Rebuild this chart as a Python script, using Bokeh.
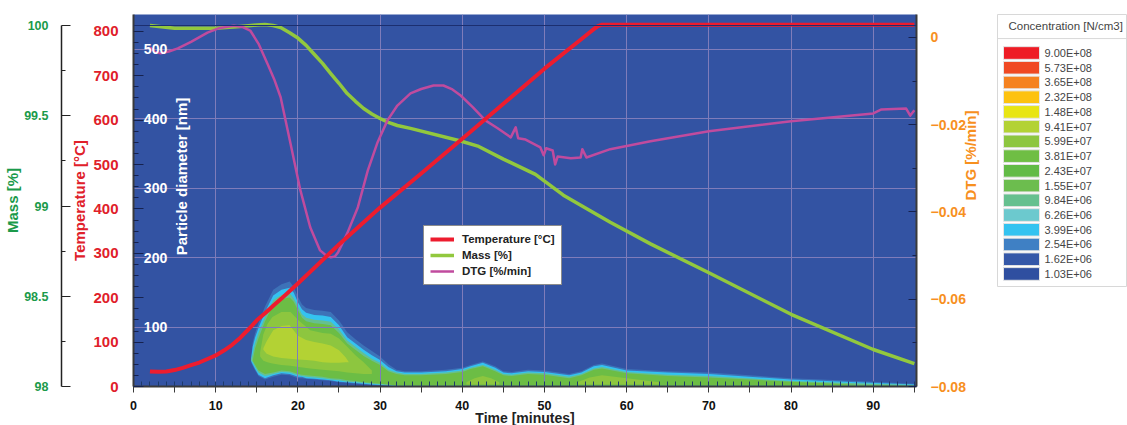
import math
from bokeh.plotting import figure
from bokeh.layouts import row
from bokeh.models import (Range1d, LinearAxis, FixedTicker, Grid, Legend, LegendItem, Span)
from bokeh.core.properties import value
from bokeh.embed import file_html
from bokeh.resources import INLINE

# ---- curves
temp_t = [2, 3, 4, 5, 6, 7, 8, 9, 10, 11, 12, 13, 14, 15, 16, 17, 18, 20, 25, 30, 35, 40, 45, 50, 55, 56, 56.5, 57, 95]
temp_v = [34, 33, 34, 37, 42, 48, 54, 62, 70, 81, 94, 110, 129, 149, 165, 182, 198, 232, 320, 403, 480, 558, 637, 716, 790, 805, 812, 815, 815]

mass_t = [2, 5, 10, 13, 15, 16, 17, 17.9, 19, 19.9, 21, 21.9, 23, 24, 25, 26, 27, 28, 29, 30, 31, 32.1, 33.7, 39.8, 42, 45,
          48.9, 52.3, 58, 62.9, 70, 80, 90, 95]
mass_v = [100.0, 99.985, 99.985, 99.995, 100.003, 100.005, 100.0, 99.989, 99.96, 99.934, 99.89, 99.845, 99.79, 99.734,
          99.68, 99.623, 99.58, 99.54, 99.51, 99.485, 99.463, 99.446, 99.43, 99.36, 99.33, 99.26,
          99.175, 99.06, 98.91, 98.79, 98.63, 98.40, 98.205, 98.127]

dtg_t = [2, 2.6, 3.3, 4.3, 5.4, 7, 9, 10.5, 12.2, 13.3, 14.2, 15.2, 16.3, 17.1, 17.9, 19.1, 20.3, 21.5, 22.7, 23.4, 24,
         24.5, 24.9, 26, 27.3, 28.5, 29.7, 30.9, 32.1, 33.7, 35, 36.5, 37.7, 38.8, 39.8, 41.3, 42.8, 44.3, 45.9,
         46.5, 46.8, 47.7, 49.5, 49.9, 50.2, 51, 51.3, 51.6, 53.2, 54.4, 54.6, 55.1, 58, 62.9, 70, 80, 90, 91, 94,
         94.5, 95]
dtg_v = [-0.0023, -0.0033, -0.0036, -0.0032, -0.0025, -0.0010, 0.0011, 0.0022, 0.0027, 0.0024, 0.0016, -0.0014,
         -0.0060, -0.0095, -0.0137, -0.0243, -0.0350, -0.0435, -0.0488, -0.0499, -0.0504, -0.0502, -0.0492, -0.0449,
         -0.0389, -0.0305, -0.0240, -0.0190, -0.0156, -0.0128, -0.0118, -0.0110, -0.0110, -0.0119, -0.0133,
         -0.0160, -0.0190, -0.0208, -0.0229, -0.0206, -0.0231, -0.0234, -0.0252, -0.0270, -0.0254, -0.0259, -0.0291,
         -0.0273, -0.0277, -0.0275, -0.0256, -0.0275, -0.0256, -0.0238, -0.0215, -0.0192, -0.0174, -0.0165, -0.0163,
         -0.0179, -0.0167]

# ---- concentration contours (time, particle diameter)
t_grid = [14.3, 14.5, 14.8, 15.2, 16, 17, 18, 19, 19.5, 20, 20.5, 21, 22, 23, 24, 25, 26, 27, 28, 29, 30, 31, 32, 33,
          35, 38, 40, 41, 42.5, 44, 45, 46, 48, 50, 53, 54.5, 56, 57, 60, 65, 70, 80, 88, 95]
halo_top = [56, 78, 92, 106, 130, 154, 162, 166, 158, 144, 133, 128, 125, 124, 122, 110, 93, 83, 74, 66, 58, 47, 39, 37,
            37, 39, 42, 46, 51, 44, 37, 36, 39, 38, 33, 37, 46, 48, 40, 37, 35, 27, 23, 19]
halo_bot = [50, 45, 38, 30, 25, 29, 32, 31, 29, 27, 27, 26, 25, 24, 23, 21, 20, 19, 18, 17, 16.5, 16, 15, 15,
            15, 15, 15, 15, 15, 15, 15, 15, 15, 15, 15, 15, 15, 15, 15, 15, 15, 15, 15, 15]
cyan_top = [54, 72, 86, 99, 122, 146, 154, 157, 150, 136, 126, 121, 118, 117, 115, 103, 86, 77, 68, 60, 53, 43, 37, 35,
            35, 37, 40, 44, 49, 42, 35, 34, 37, 36, 31, 35, 44, 46, 38, 35, 33, 25, 21, 18]
cyan_bot = [52, 47, 40, 32, 27, 31, 34, 33, 31, 29, 29, 27, 26, 25, 24, 22, 21, 20, 19, 18, 17, 16.5, 15.5, 15.5,
            15.5, 15.5, 15.5, 15.5, 15.5, 15.5, 15.5, 15.5, 15.5, 15.5, 15.5, 15.5, 15.5, 15.5, 15.5, 15.5, 15.5, 15.5, 15.5, 15.5]
teal_top = [53, 62, 78, 92, 115, 139, 147, 149, 142, 130, 119, 114, 111, 110, 108, 97, 81, 72, 63, 55, 49, 39, 35, 33,
            33, 35, 38, 42, 46, 39, 33, 32, 35, 34, 29, 33, 41, 43, 36, 32, 30, 23, 19.5, 17]
teal_bot = [53, 50, 43, 35, 30, 33, 36, 35, 33, 31, 30, 29, 28, 27, 25, 24, 22, 21, 20, 19, 18, 17, 16, 16,
            16, 16, 16, 16, 16, 16, 16, 16, 16, 16, 16, 16, 16, 16, 16, 16, 16, 16, 16, 16]
green_top = [54, 52, 70, 84, 109, 133, 141, 143, 137, 125, 114, 109, 106, 105, 103, 92, 77, 68, 59, 52, 46, 37, 33, 31,
             31, 33, 36, 40, 44, 37, 31, 30, 33, 32, 27, 31, 39, 41, 34, 30, 28, 22, 17.5, 16.5]
green_bot = [54, 52, 46, 38, 33, 35, 38, 37, 35, 33, 32, 31, 30, 29, 27, 26, 24, 23, 21, 20, 19, 18, 16.5, 16.5,
             16.5, 16.5, 16.5, 16.5, 16.5, 16.5, 16.5, 16.5, 16.5, 16.5, 16.5, 16.5, 16.5, 16.5, 16.5, 16.5, 16.5, 16.5, 16.5, 16.5]
mid_t = [15.4, 15.8, 16.3, 16.9, 18, 19.1, 20.1, 21.5, 23, 24, 25, 26, 27, 28, 29]
mid_top = [64, 90, 105, 115, 122, 122, 110, 96, 92, 91, 84, 72, 60, 50, 38]
mid_bot = [58, 52, 50, 48, 46, 45, 43, 41, 39, 38, 37, 35, 34, 33, 33]
hump1_t = [40.5, 41.5, 42.5, 43.5, 44.5]
hump1_top = [21, 27, 30, 27, 21]
hump1_bot = [18, 18, 18, 18, 18]
hump2_t = [54, 55.5, 57, 60, 64]
hump2_top = [21, 28, 31, 27, 21]
hump2_bot = [18, 18, 18, 18, 18]
core_t = [15.8, 16.2, 17, 18, 19, 20, 21, 22, 23, 24, 25, 25.8, 26.2]
core_top = [70, 80, 96, 102, 103, 88, 82, 79, 77, 74, 67, 57, 50]
core_bot = [68, 62, 58, 56, 55, 54, 53, 52, 50, 49, 49, 50, 50]

# ---- axes
time_ticks = [0, 10, 20, 30, 40, 50, 60, 70, 80, 90]
time_majors = [0, 5, 10, 15, 20, 25, 30, 35, 40, 45, 50, 55, 60, 65, 70, 75, 80, 85, 90, 95]
time_minors = list(range(0, 96))
particle_ticks = [100, 200, 300, 400, 500]
temp_ticks = [0, 100, 200, 300, 400, 500, 600, 700, 800]
temp_minors = [25, 50, 75, 125, 150, 175, 225, 250, 275, 325, 350, 375, 425, 450, 475, 525, 550, 575, 625, 650, 675, 725, 750, 775]
mass_ticks = [98, 98.5, 99, 99.5, 100]
mass_minors = [98.25, 98.75, 99.25, 99.75]
dtg_ticks = [-0.08, -0.06, -0.04, -0.02, 0]
dtg_minors = [-0.07, -0.05, -0.03, -0.01]

# ---- colour key
conc_labels = ["9.00E+08", "5.73E+08", "3.65E+08", "2.32E+08", "1.48E+08", "9.41E+07", "5.99E+07", "3.81E+07",
               "2.43E+07", "1.55E+07", "9.84E+06", "6.26E+06", "3.99E+06", "2.54E+06", "1.62E+06", "1.03E+06"]
conc_colors = ["#ee1c25", "#f04923", "#f58220", "#fdc20f", "#e8e514", "#b3d234", "#8dc63f", "#6fbe44",
               "#62bb46", "#6cbd4e", "#66c08f", "#6cc9ce", "#34c3f0", "#3f80c4", "#3558a8", "#2f4fa0"]

FONT = "Liberation Sans"
RED, GREEN_T, ORANGE = "#e0202a", "#1b9a4a", "#f7901e"
AX = "#3a3a3a"


def spacer(range_name, size):
    # an empty axis, used only to reserve room beside the plot
    kw = {"y_range_name": range_name} if range_name else {}
    return LinearAxis(ticker=FixedTicker(ticks=[0]), major_label_overrides={0: ""}, major_tick_out=size,
                      major_tick_in=0, major_tick_line_color=None, minor_tick_line_color=None, axis_line_color=None,
                      major_label_standoff=0, major_label_text_font_size="1px", **kw)


p = figure(frame_width=783, frame_height=372,
           x_range=Range1d(0, 95.26), y_range=Range1d(15, 550),
           y_axis_location=None, toolbar_location=None, output_backend="svg",
           background_fill_color="#3353a3", border_fill_color="white",
           min_border_left=0, min_border_right=0, min_border_top=14, min_border_bottom=0)
p.outline_line_color = None
p.grid.visible = False
p.extra_y_ranges = {
    "temp": Range1d(0, 838),
    "mass": Range1d(98, 100.061),
    "dtg": Range1d(-0.08, 0.00527),
}

p.add_layout(Grid(dimension=0, ticker=FixedTicker(ticks=time_ticks), grid_line_color="#7f7cba", grid_line_width=1, level="underlay"))
p.add_layout(Grid(dimension=1, ticker=FixedTicker(ticks=particle_ticks), grid_line_color="#7f7cba", grid_line_width=1, level="underlay"))

# contours
for xs, top, bot, col in [
    (t_grid, halo_top, halo_bot, "#3d72b8"),
    (t_grid, cyan_top, cyan_bot, "#34c3f0"),
    (t_grid, teal_top, teal_bot, "#66c08f"),
    (t_grid, green_top, green_bot, "#6cbd45"),
    (mid_t, mid_top, mid_bot, "#8dc63f"),
    (hump1_t, hump1_top, hump1_bot, "#8dc63f"),
    (hump2_t, hump2_top, hump2_bot, "#8dc63f"),
    (core_t, core_top, core_bot, "#b3d234"),
]:
    p.varea(x=xs, y1=bot, y2=top, fill_color=col, level="image")

p.add_layout(Span(location=100, dimension="width", y_range_name="mass", line_color="#1c2f70", line_width=1))

r_mass = p.line(mass_t, mass_v, y_range_name="mass", line_color="#92c83e", line_width=3.5, line_join="round")
r_dtg = p.line(dtg_t, dtg_v, y_range_name="dtg", line_color="#c04b9e", line_width=2.5, line_join="round")
r_temp = p.line(temp_t, temp_v, y_range_name="temp", line_color="#ed1c2e", line_width=4, line_join="round")

# particle-diameter scale, printed inside the plot
p.text(x=[4.1] * len(particle_ticks), y=particle_ticks, text=[str(v) for v in particle_ticks],
       text_color="white", text_font=value(FONT), text_font_style="bold", text_font_size="14px",
       text_align="right", text_baseline="middle")
p.text(x=[5.84], y=[317], text=["Particle diameter [nm]"], angle=math.pi / 2,
       text_color="white", text_font=value(FONT), text_font_style="bold", text_font_size="15px",
       text_align="center", text_baseline="middle")

# x axis
xa = p.xaxis[0]
xa.ticker = FixedTicker(ticks=time_majors, minor_ticks=time_minors)
xa.major_label_overrides = {v: "" for v in time_majors if v not in time_ticks}
xa.axis_label = "Time [minutes]"
xa.axis_label_text_font = FONT
xa.axis_label_text_font_style = "bold"
xa.axis_label_text_font_size = "14px"
xa.axis_label_text_color = "#222222"
xa.axis_label_standoff = -3
xa.major_label_text_font = FONT
xa.major_label_text_font_style = "bold"
xa.major_label_text_font_size = "12.5px"
xa.major_label_text_color = "#111111"
xa.major_label_standoff = 8
xa.major_tick_out = 6
xa.major_tick_in = 0
xa.minor_tick_in = 5
xa.minor_tick_out = 0
xa.axis_line_color = AX
xa.axis_line_width = 2
xa.major_tick_line_color = AX
xa.minor_tick_line_color = "#1d3a6a"
p.add_layout(spacer(None, 5), "below")

# temperature axis
ta = LinearAxis(y_range_name="temp", ticker=FixedTicker(ticks=temp_ticks, minor_ticks=temp_minors),
                axis_label="Temperature [°C]", axis_label_text_color=RED, axis_label_text_font=FONT,
                axis_label_text_font_style="bold", axis_label_text_font_size="15px", axis_label_standoff=2,
                major_label_text_color=RED, major_label_text_font=FONT, major_label_text_font_style="bold",
                major_label_text_font_size="15px", major_label_standoff=15, major_tick_in=10, major_tick_out=0,
                minor_tick_in=5, minor_tick_out=0, major_tick_line_color="#16224f", minor_tick_line_color="#16224f",
                axis_line_color=AX, axis_line_width=2)
p.add_layout(ta, "left")

# blank spacer between the temperature title and the mass axis
p.add_layout(spacer("temp", 7), "left")

# mass axis
ma = LinearAxis(y_range_name="mass", ticker=FixedTicker(ticks=mass_ticks, minor_ticks=mass_minors),
                bounds=(98, 100),
                axis_label="Mass [%]", axis_label_text_color=GREEN_T, axis_label_text_font=FONT,
                axis_label_text_font_style="bold", axis_label_text_font_size="15px", axis_label_standoff=0,
                major_label_text_color=GREEN_T, major_label_text_font=FONT, major_label_text_font_style="bold",
                major_label_text_font_size="12.5px", major_label_standoff=13, major_tick_in=9, major_tick_out=0,
                minor_tick_in=4, minor_tick_out=0, major_tick_line_color="#222222", minor_tick_line_color="#222222",
                axis_line_color="#222222", axis_line_width=1.5)
p.add_layout(ma, "left")
p.add_layout(spacer("temp", 9), "left")

# DTG axis
da = LinearAxis(y_range_name="dtg", ticker=FixedTicker(ticks=dtg_ticks, minor_ticks=dtg_minors),
                major_label_text_color=ORANGE, major_label_text_font=FONT, major_label_text_font_style="bold",
                major_label_text_font_size="14px", major_label_standoff=14, major_tick_in=8, major_tick_out=0,
                minor_tick_in=4, minor_tick_out=0, major_tick_line_color="#16224f", minor_tick_line_color="#16224f",
                axis_line_color=AX, axis_line_width=2,
                major_label_overrides={0: "0"})
p.add_layout(da, "right")

# the DTG title lives on an invisible axis whose bounds place the text below the -0.02 label
dt = LinearAxis(y_range_name="dtg", bounds=(-0.08, -0.0246), ticker=FixedTicker(ticks=[-0.08]),
                major_label_overrides={-0.08: ""}, major_label_text_font_size="1px", major_label_standoff=0,
                major_tick_in=0, major_tick_out=0, major_tick_line_color=None, minor_tick_line_color=None,
                axis_line_color=None, axis_label="DTG [%/min]", axis_label_text_color=ORANGE, axis_label_text_font=FONT,
                axis_label_text_font_style="bold", axis_label_text_font_size="15px", axis_label_standoff=2,
                axis_label_orientation=math.pi / 2)
p.add_layout(dt, "right")
p.add_layout(spacer("dtg", 7), "right")

legend = Legend(items=[LegendItem(label="Temperature [°C]", renderers=[r_temp]),
                       LegendItem(label="Mass [%]", renderers=[r_mass]),
                       LegendItem(label="DTG [%/min]", renderers=[r_dtg])],
                location=(290, 101), orientation="vertical", background_fill_color="white", background_fill_alpha=1,
                border_line_color="#1a1a1a", border_line_width=1, label_text_font=FONT, label_text_font_style="bold",
                label_text_font_size="11.5px", label_text_color="#222222", glyph_width=24, glyph_height=14,
                label_height=14, padding=6, spacing=2, margin=0, label_standoff=8)
p.add_layout(legend, "center")

# colour key panel
k = figure(frame_width=130, frame_height=273,
           x_range=Range1d(0, 130), y_range=Range1d(15.92, -2.614),
           x_axis_location=None, y_axis_location=None, toolbar_location=None, output_backend="svg",
           min_border_left=0, min_border_right=0, min_border_top=22, min_border_bottom=0)
k.grid.visible = False
k.outline_line_color = "#d8d8d8"
k.outline_line_width = 1
idx = list(range(len(conc_labels)))
k.hbar(y=idx, left=6, right=42, height=0.86, fill_color=conc_colors, line_color="#e4e4e4", line_width=1)
k.text(x=[47] * len(idx), y=idx, text=conc_labels, text_color="#444444", text_font=value(FONT),
       text_font_size="11px", text_align="left", text_baseline="middle")
k.text(x=[11], y=[-1.8], text=["Concentration [N/cm3]"], text_color="#444444", text_font=value(FONT),
       text_font_size="11.5px", text_align="left", text_baseline="middle")
k.add_layout(Span(location=-0.98, dimension="width", line_color="#d8d8d8", line_width=1))

layout = row(p, k, spacing=0, margin=(-8, -8, -8, -8))
open("out.html", "w").write(file_html(layout, INLINE))
